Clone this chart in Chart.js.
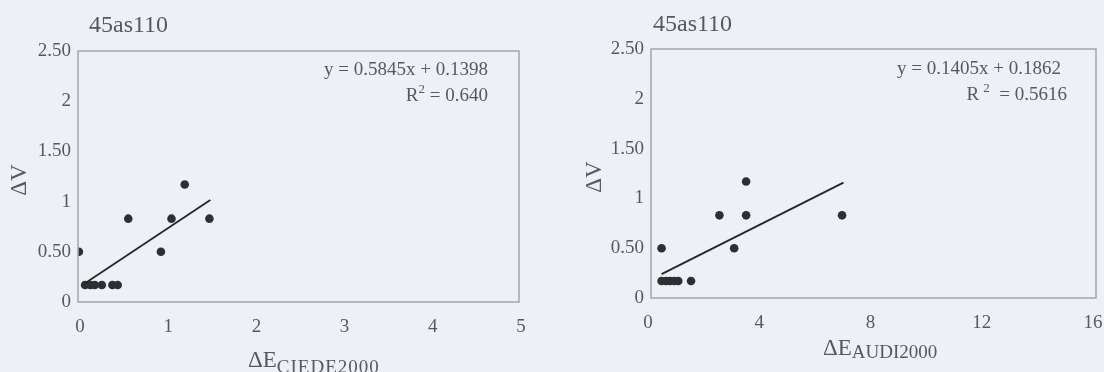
<!DOCTYPE html>
<html>
<head>
<meta charset="utf-8">
<script src="https://cdn.jsdelivr.net/npm/chart.js@4.4.1/dist/chart.umd.min.js"></script>
<style>
  html, body { margin: 0; padding: 0; background: #edf0f5; }
  #wrap { position: relative; width: 1104px; height: 372px; overflow: hidden; }
  .box { position: absolute; top: 0; width: 552px; height: 372px; }
</style>
</head>
<body>
<div id="wrap">
  <div class="box" style="left:0"><canvas id="c1"></canvas></div>
  <div class="box" style="left:552px"><canvas id="c2"></canvas></div>
</div>
<script>
// ---- data ----
const chartTitle = '45as110';
const yTickValues = [0, 0.5, 1, 1.5, 2, 2.5];
const yTickLabels = ['0', '0.50', '1', '1.50', '2', '2.50'];

const xCiede = [0.01, 0.08, 0.14, 0.19, 0.27, 0.39, 0.45, 0.57, 0.94, 1.06, 1.21, 1.49];
const yCiede = [0.50, 0.17, 0.17, 0.17, 0.17, 0.17, 0.17, 0.83, 0.50, 0.83, 1.17, 0.83];
const fitCiede = [0.5845, 0.1398];      // slope, intercept
const fitCiedeRange = [0.08, 1.50];
const eqCiede = 'y = 0.5845x + 0.1398';
const r2Ciede = '0.640';

const xAudi = [0.38, 0.38, 0.54, 0.68, 0.84, 0.98, 1.44, 2.46, 2.99, 3.42, 3.42, 6.87];
const yAudi = [0.50, 0.17, 0.17, 0.17, 0.17, 0.17, 0.17, 0.83, 0.50, 0.83, 1.17, 0.83];
const fitAudi = [0.1405, 0.1862];
const fitAudiRange = [0.38, 6.92];
const eqAudi = 'y = 0.1405x + 0.1862';
const r2Audi = '0.5616';

// ---- styling ----
const TXT = '#555a60';
const DOT = '#2e2f33';
const SERIF = '"Liberation Serif", "DejaVu Serif", serif';

const textPlugin = {
  id: 'textPlugin',
  afterDraw(chart) {
    const o = chart.options.plugins.textPlugin;
    const ctx = chart.ctx;
    const a = chart.chartArea;
    ctx.save();
    // plot frame
    ctx.strokeStyle = '#a3a5aa';
    ctx.lineWidth = 1.5;
    ctx.strokeRect(a.left, a.top, a.right - a.left, a.bottom - a.top);

    ctx.fillStyle = TXT;
    ctx.textBaseline = 'alphabetic';
    // title
    ctx.font = '24px ' + SERIF;
    ctx.textAlign = 'left';
    ctx.fillText(chartTitle, o.titleX, o.titleY);

    // equation
    ctx.font = '19px ' + SERIF;
    ctx.textAlign = 'right';
    ctx.fillText(o.eq, o.eqX, o.eqY);

    // R^2 line
    const rest = (o.r2gap ? '  ' : ' ') + '= ' + o.r2;
    ctx.font = '19px ' + SERIF;
    const wRest = ctx.measureText(rest).width;
    ctx.font = '13px ' + SERIF;
    const wSup = ctx.measureText('2').width + (o.r2gap ? 4 : 0);
    ctx.font = '19px ' + SERIF;
    const wR = ctx.measureText('R').width;
    let x = o.r2X - wRest - wSup - wR;
    ctx.textAlign = 'left';
    ctx.fillText('R', x, o.r2Y);
    ctx.font = '13px ' + SERIF;
    ctx.fillText('2', x + wR + (o.r2gap ? 4 : 0), o.r2Y - 8);
    ctx.font = '19px ' + SERIF;
    ctx.fillText(rest, x + wR + wSup, o.r2Y);

    // y title
    ctx.save();
    ctx.translate(o.yTitleX, o.yTitleY);
    ctx.rotate(-Math.PI / 2);
    ctx.font = '23px ' + SERIF;
    ctx.textAlign = 'center';
    ctx.textBaseline = 'middle';
    ctx.fillText('\u0394V', 0, 0);
    ctx.restore();

    // x title with subscript
    ctx.textAlign = 'left';
    ctx.font = '23px ' + SERIF;
    ctx.fillText('\u0394E', o.xTitleX, o.xTitleY);
    const wDE = ctx.measureText('\u0394E').width;
    ctx.font = '19px ' + SERIF;
    if ('letterSpacing' in ctx) ctx.letterSpacing = o.subSpacing;
    ctx.fillText(o.sub, o.xTitleX + wDE, o.subY);
    ctx.restore();
  }
};

function makeChart(id, xs, ys, fit, range, xMax, xStep, cfg) {
  const pts = xs.map((x, i) => ({ x: x, y: ys[i] }));
  const line = range.map(x => ({ x: x, y: fit[0] * x + fit[1] }));
  return new Chart(document.getElementById(id), {
    type: 'scatter',
    data: {
      datasets: [
        { data: pts, pointRadius: 4.3, pointBackgroundColor: DOT, pointBorderWidth: 0, showLine: false, order: 2 },
        { data: line, showLine: true, pointRadius: 0, borderColor: '#26272b', borderWidth: 1.8, order: 1 }
      ]
    },
    options: {
      responsive: true,
      maintainAspectRatio: false,
      animation: false,
      events: [],
      layout: { padding: { top: cfg.padTop, right: cfg.padRight, left: 0, bottom: 0 } },
      plugins: {
        legend: { display: false },
        tooltip: { enabled: false },
        textPlugin: cfg.text
      },
      scales: {
        x: {
          type: 'linear', min: 0, max: xMax,
          grid: { display: false, drawTicks: false },
          border: { display: false },
          ticks: { stepSize: xStep, padding: cfg.xPad, labelOffset: cfg.xLabelOffset, color: TXT, font: { family: SERIF, size: 19 }, maxRotation: 0 },
          afterFit: s => { s.height = cfg.xHeight; s.paddingLeft = 0; s.paddingRight = 0; }
        },
        y: {
          type: 'linear', min: 0, max: 2.5,
          grid: { display: false, drawTicks: false },
          border: { display: false },
          afterBuildTicks: s => { s.ticks = yTickValues.map(v => ({ value: v })); },
          ticks: {
            padding: 7, color: TXT, font: { family: SERIF, size: 19 },
            callback: v => { const i = yTickValues.indexOf(v); return i >= 0 ? yTickLabels[i] : ''; }
          },
          afterFit: s => { s.width = cfg.yWidth; s.paddingTop = 0; s.paddingBottom = 0; }
        }
      }
    },
    plugins: [textPlugin]
  });
}

makeChart('c1', xCiede, yCiede, fitCiede, fitCiedeRange, 5, 1, {
  padTop: 51, padRight: 33, xHeight: 70, yWidth: 78, xPad: 14, xLabelOffset: 2,
  text: { titleX: 89, titleY: 32, eq: eqCiede, eqX: 488, eqY: 75, r2: r2Ciede, r2X: 488, r2Y: 101, r2gap: false,
          yTitleX: 20, yTitleY: 180, xTitleX: 248, xTitleY: 367, sub: 'CIEDE2000', subY: 373, subSpacing: '1px' }
});
makeChart('c2', xAudi, yAudi, fitAudi, fitAudiRange, 16, 4, {
  padTop: 49, padRight: 8, xHeight: 74, yWidth: 99, xPad: 14, xLabelOffset: -3,
  text: { titleX: 101, titleY: 31, eq: eqAudi, eqX: 509, eqY: 74, r2: r2Audi, r2X: 515, r2Y: 100, r2gap: true,
          yTitleX: 43, yTitleY: 177, xTitleX: 271, xTitleY: 355, sub: 'AUDI2000', subY: 358, subSpacing: '0px' }
});
</script>
</body>
</html>
